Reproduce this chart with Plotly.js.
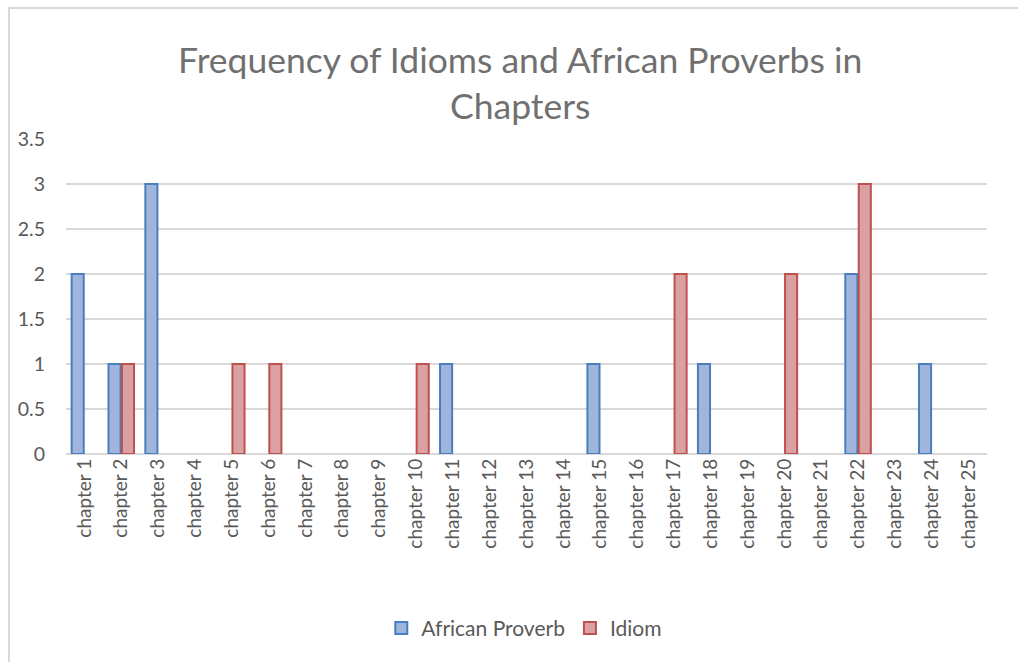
<!DOCTYPE html>
<html>
<head>
<meta charset="utf-8">
<script src="https://cdn.plot.ly/plotly-3.0.1.min.js"></script>
<style>
html,body{margin:0;padding:0;background:#fff;}
#wrap{position:relative;width:1018px;height:662px;overflow:hidden;}
#chart{width:1018px;height:662px;}
#frame{position:absolute;left:8px;top:7px;width:1100px;height:700px;border-left:2px solid #d9d9d9;border-top:2px solid #d9d9d9;pointer-events:none;}
</style>
</head>
<body>
<div id="wrap"><div id="chart"></div><div id="frame"></div></div>
<script>
const chapters = ["chapter 1","chapter 2","chapter 3","chapter 4","chapter 5","chapter 6","chapter 7","chapter 8","chapter 9","chapter 10","chapter 11","chapter 12","chapter 13","chapter 14","chapter 15","chapter 16","chapter 17","chapter 18","chapter 19","chapter 20","chapter 21","chapter 22","chapter 23","chapter 24","chapter 25"];
const africanProverb = [2,1,3,0,0,0,0,0,0,0,1,0,0,0,1,0,0,1,0,0,0,2,0,1,0];
const idiom =          [0,1,0,0,1,1,0,0,0,1,0,0,0,0,0,0,2,0,0,2,0,3,0,0,0];
const yTicks = [0,0.5,1,1.5,2,2.5,3,3.5];

const fontFam = "Lato, 'Open Sans', sans-serif";
const grey = "#595959";
// zero counts draw no bar (as in the original), so hide them rather than stroke a flat outline
const hideZero = arr => arr.map(v => v === 0 ? null : v);

const traces = [
  {type:"bar", name:"African Proverb", x:chapters, y:hideZero(africanProverb),
   marker:{color:"#9fb5dc", line:{color:"#4a7ebf", width:2}}},
  {type:"bar", name:"Idiom", x:chapters, y:hideZero(idiom),
   marker:{color:"#d9a1a1", line:{color:"#c0504d", width:2}}}
];

const layout = {
  width:1018, height:662,
  margin:{l:66, r:31, t:139, b:208},
  paper_bgcolor:"#fff", plot_bgcolor:"#fff",
  title:{text:"Frequency of Idioms and African Proverbs in<br>Chapters",
         font:{family:fontFam, size:35.5, color:"#707070"},
         x:0.511, xref:"container", xanchor:"center",
         y:0.89, yref:"container", yanchor:"top"},
  barmode:"group", bargap:0.27, bargroupgap:0.1,
  xaxis:{type:"category", tickangle:-90, showgrid:false, showline:false, ticks:"",
         tickfont:{family:fontFam, size:19, color:grey}, zeroline:false},
  yaxis:{range:[0,3.5], tickvals:yTicks, ticktext:yTicks.map(String),
         showgrid:true, gridcolor:"#d9d9d9", gridwidth:1.5,
         zeroline:true, zerolinecolor:"#d9d9d9", zerolinewidth:1.5,
         showline:false, ticks:"", ticklabelstandoff:20,
         tickfont:{family:fontFam, size:19.5, color:grey}},
  legend:{orientation:"h", x:0.515, xanchor:"center", xref:"container", y:0.051, yref:"container", yanchor:"middle",
          font:{family:fontFam, size:21, color:grey}, itemwidth:30, traceorder:"normal"},
  showlegend:true
};

Plotly.newPlot("chart", traces, layout, {displayModeBar:false, staticPlot:true});
</script>
</body>
</html>
